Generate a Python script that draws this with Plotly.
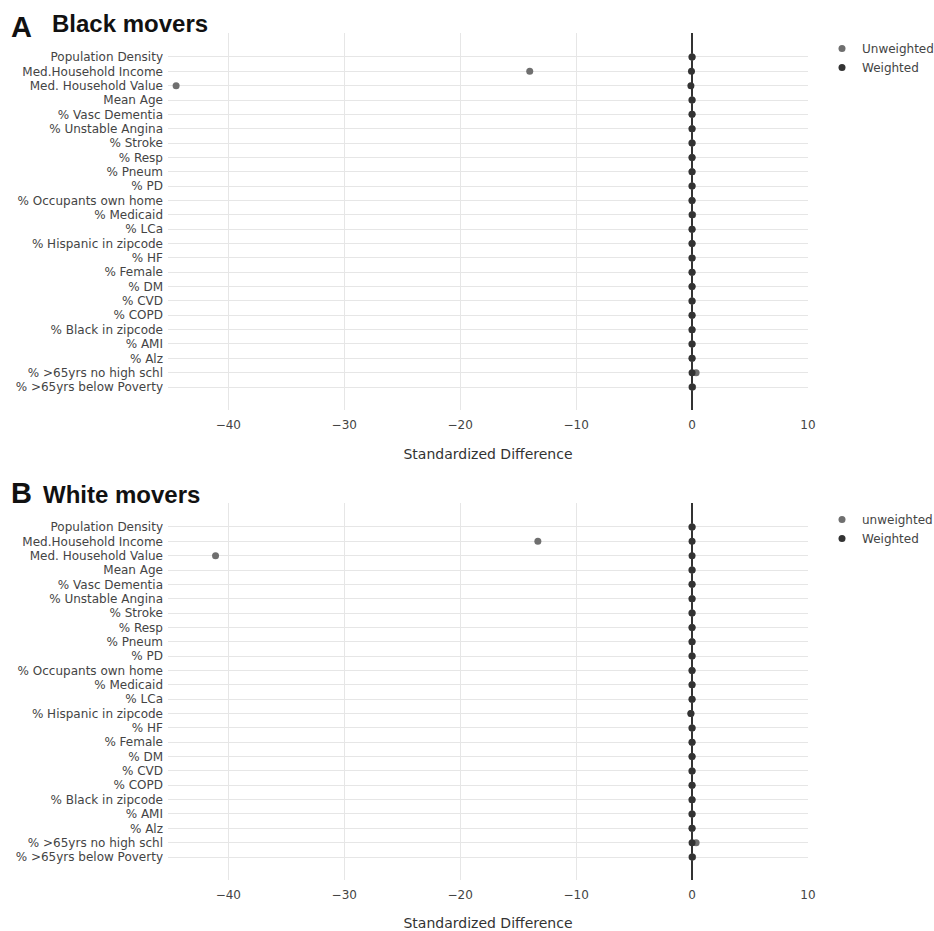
import plotly.graph_objects as go

# Covariates, top to bottom
covariates = [
    "Population Density", "Med.Household Income", "Med. Household Value", "Mean Age",
    "% Vasc Dementia", "% Unstable Angina", "% Stroke", "% Resp", "% Pneum", "% PD",
    "% Occupants own home", "% Medicaid", "% LCa", "% Hispanic in zipcode", "% HF",
    "% Female", "% DM", "% CVD", "% COPD", "% Black in zipcode", "% AMI", "% Alz",
    "% >65yrs no high schl", "% >65yrs below Poverty",
]

# Standardized differences, panel A (Black movers)
black_unweighted = [0.0, -14.0, -44.5, 0.0, 0.0, 0.0, 0.0, 0.0, 0.0, 0.0, 0.0, 0.05,
                    0.0, 0.0, 0.0, 0.0, 0.0, 0.0, 0.0, 0.0, 0.0, 0.0, 0.35, 0.05]
black_weighted = [0.0, -0.05, -0.1, 0.0, 0.0, 0.0, 0.0, 0.0, 0.0, 0.0, 0.0, 0.0,
                  0.0, 0.0, 0.0, 0.0, 0.0, 0.0, 0.0, 0.0, 0.0, 0.0, 0.0, 0.0]

# Standardized differences, panel B (White movers)
white_unweighted = [0.0, -13.3, -41.1, 0.0, 0.0, 0.0, 0.0, 0.0, 0.0, 0.0, 0.0, 0.0,
                    0.0, -0.1, 0.0, 0.0, 0.0, 0.0, 0.0, 0.0, 0.0, 0.0, 0.35, 0.05]
white_weighted = [0.0, 0.0, 0.0, 0.0, 0.0, 0.0, 0.0, 0.0, 0.0, 0.0, 0.0, 0.0,
                  0.0, -0.1, 0.0, 0.0, 0.0, 0.0, 0.0, 0.0, 0.0, 0.0, 0.0, 0.0]

x_ticks = [-40, -30, -20, -10, 0, 10]
x_ticktext = ["\u221240", "\u221230", "\u221220", "\u221210", "0", "10"]

n = len(covariates)
FONT = "DejaVu Sans"
LIGHT = "#6f6f6f"
DARK = "#333333"
TEXT = "#444444"

fig = go.Figure()

panels = [
    ("x", "y", "legend", black_unweighted, black_weighted, "Unweighted", "Weighted"),
    ("x2", "y2", "legend2", white_unweighted, white_weighted, "unweighted", "Weighted"),
]
for xa, ya, lg, unw, wt, n_unw, n_wt in panels:
    fig.add_trace(go.Scatter(
        x=unw, y=covariates, mode="markers", name=n_unw,
        marker=dict(color=LIGHT, size=7), xaxis=xa, yaxis=ya, legend=lg,
    ))
    fig.add_trace(go.Scatter(
        x=wt, y=covariates, mode="markers", name=n_wt,
        marker=dict(color=DARK, size=7), xaxis=xa, yaxis=ya, legend=lg,
    ))

xdom = [168 / 934, 808 / 934]
W, H = 934, 931

def xaxis_cfg(anchor):
    return dict(
        domain=xdom, anchor=anchor, range=[-45.2, 10], tickvals=x_ticks,
        ticktext=x_ticktext,
        showgrid=True, gridcolor="#e6e6e6", gridwidth=1,
        zeroline=True, zerolinecolor=DARK, zerolinewidth=2,
        showline=False, ticks="", ticklabelstandoff=6,
        tickfont=dict(size=12, color=TEXT, family=FONT),
        title=dict(text="Standardized Difference", font=dict(size=14, color="#333333", family=FONT),
                   standoff=18),
    )

def yaxis_cfg(anchor, top, bottom):
    return dict(
        domain=[1 - bottom / H, 1 - top / H], anchor=anchor,
        type="category", categoryorder="array", categoryarray=covariates,
        range=[n - 1 + 1.6, -1.67],
        showgrid=True, gridcolor="#e6e6e6", gridwidth=1, zeroline=False,
        showline=False, ticks="", ticklabelstandoff=4,
        tickfont=dict(size=12, color=TEXT, family=FONT),
    )

fig.update_layout(
    width=W, height=H,
    margin=dict(l=0, r=0, t=0, b=0, autoexpand=False),
    paper_bgcolor="white", plot_bgcolor="white",
    xaxis=xaxis_cfg("y"), yaxis=yaxis_cfg("x", 33, 410),
    xaxis2=xaxis_cfg("y2"), yaxis2=yaxis_cfg("x2", 503, 880),
    showlegend=True,
    legend=dict(x=822 / W, y=1 - 34 / H, xanchor="left", yanchor="top",
                font=dict(size=12, color=TEXT, family=FONT), bgcolor="rgba(0,0,0,0)"),
    legend2=dict(x=822 / W, y=1 - 505 / H, xanchor="left", yanchor="top",
                 font=dict(size=12, color=TEXT, family=FONT), bgcolor="rgba(0,0,0,0)"),
    annotations=[
        dict(text="<b>A</b>", x=9 / W, y=1 - 45 / H, xref="paper", yref="paper",
             xanchor="left", yanchor="bottom", showarrow=False,
             font=dict(size=29, color="#111111", family="Liberation Sans")),
        dict(text="<b>Black movers</b>", x=50 / W, y=1 - 39 / H, xref="paper", yref="paper",
             xanchor="left", yanchor="bottom", showarrow=False,
             font=dict(size=24, color="#111111", family="Liberation Sans")),
        dict(text="<b>B</b>", x=9 / W, y=1 - 511 / H, xref="paper", yref="paper",
             xanchor="left", yanchor="bottom", showarrow=False,
             font=dict(size=29, color="#111111", family="Liberation Sans")),
        dict(text="<b>White movers</b>", x=41 / W, y=1 - 510 / H, xref="paper", yref="paper",
             xanchor="left", yanchor="bottom", showarrow=False,
             font=dict(size=24, color="#111111", family="Liberation Sans")),
    ],
)

fig.write_html("out.html")
